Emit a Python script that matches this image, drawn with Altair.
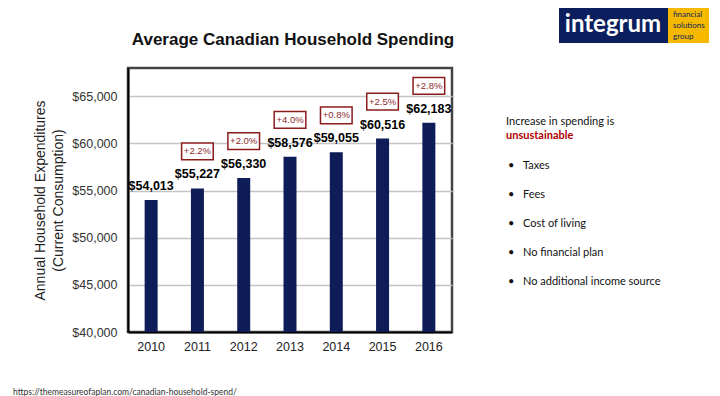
import altair as alt
import pandas as pd

years = ["2010", "2011", "2012", "2013", "2014", "2015", "2016"]
spending = [54013, 55227, 56330, 58576, 59055, 60516, 62183]
pct_change = [None, "+2.2%", "+2.0%", "+4.0%", "+0.8%", "+2.5%", "+2.8%"]

bullets = ["Taxes", "Fees", "Cost of living", "No financial plan", "No additional income source"]

df = pd.DataFrame({"year": years, "spend": spending, "pct": pct_change})
df_pct = df.dropna(subset=["pct"])

FONT = "Liberation Sans"
NAVY = "#0e1d58"

x_enc = alt.X("year:N", title=None,
              axis=alt.Axis(labelAngle=0, labelFontSize=12.5, labelColor="#222", labelFont=FONT,
                            ticks=False, labelPadding=8, domainColor="#000", domainWidth=2, grid=False),
              scale=alt.Scale(paddingInner=0.72, paddingOuter=0.36))
y_scale = alt.Scale(domain=[40000, 68000], nice=False, zero=False)
y_enc = alt.Y("spend:Q", scale=y_scale,
              title=["Annual Household Expenditures", "(Current Consumption)"],
              axis=alt.Axis(values=[40000, 45000, 50000, 55000, 60000, 65000], format="$,.0f",
                            labelFontSize=12.5, labelColor="#333", labelFont=FONT, ticks=False,
                            labelPadding=11, domainColor="#000", domainWidth=2,
                            gridColor="#c4c4c4", gridWidth=1.5,
                            titleFont=FONT, titleFontSize=14, titleFontWeight="normal",
                            titleColor="#222", titlePadding=6, titleLineHeight=18))

base = alt.Chart(df)
bars = base.mark_bar(color=NAVY, size=13).encode(x=x_enc, y=y_enc, y2=alt.datum(40000))
vals = base.mark_text(fontWeight="bold", fontSize=12.5, font=FONT, color="#000",
                      baseline="middle", yOffset=-14).encode(
    x="year:N", y="spend:Q", text=alt.Text("spend:Q", format="$,.0f"))

pct_base = alt.Chart(df_pct)
boxes = pct_base.mark_point(shape="M-1,-0.53H1V0.53H-1Z", size=1000, filled=True,
                            fill="#ffffff", stroke="#8a1c1c", strokeWidth=1.5, opacity=1,
                            yOffset=-37).encode(x="year:N", y="spend:Q")
pct_txt = pct_base.mark_text(fontSize=9.5, font=FONT, color="#8a2a2a", baseline="middle",
                             yOffset=-37).encode(x="year:N", y="spend:Q", text="pct:N")

one = alt.Data(values=[{}])

def txt(s, x, y, **kw):
    return alt.Chart(one).mark_text(text=s, **kw).encode(x=alt.value(x), y=alt.value(y))

def box(x1, x2, y1, y2, color):
    return alt.Chart(one).mark_rect(color=color).encode(
        x=alt.value(x1), x2=alt.value(x2), y=alt.value(y1), y2=alt.value(y2))

title = txt("Average Canadian Household Spending", 165, -28, font=FONT, fontSize=17,
            fontWeight="bold", color="#111", align="center", baseline="middle")

logo = [
    box(431, 540, -60, -25, "#0b1f5e"),
    box(540, 581, -60, -25, "#f6b900"),
    txt("integrum", 485, -43, font="Lato", fontSize=24, fontWeight="bold", color="#ffffff",
        align="center", baseline="middle"),
    txt("financial", 545, -53, font="Lato", fontSize=8, color="#0b1f5e", align="left", baseline="middle"),
    txt("solutions", 545, -42, font="Lato", fontSize=8, color="#0b1f5e", align="left", baseline="middle"),
    txt("group", 545, -31, font="Lato", fontSize=8, color="#0b1f5e", align="left", baseline="middle"),
]

side = [
    txt("Increase in spending is", 378, 54, font="Lato", fontSize=11, color="#111",
        align="left", baseline="middle"),
    txt("unsustainable", 378, 68, font="Lato", fontSize=11, fontWeight="bold", color="#b00000",
        align="left", baseline="middle"),
]
bullet_ys = [98, 127, 156, 185, 214]
for b, yy in zip(bullets, bullet_ys):
    side.append(txt("\u2022", 380, yy, font="Lato", fontSize=11, color="#111",
                    align="left", baseline="middle"))
    side.append(txt(b, 395, yy, font="Lato", fontSize=11, color="#111",
                    align="left", baseline="middle"))

footer = txt("https://themeasureofaplan.com/canadian-household-spend/", -115, 324,
             font="Lato", fontSize=8.5, color="#333", align="left", baseline="middle")

chart = alt.layer(bars, vals, boxes, pct_txt, title, *logo, *side, footer).properties(
    width=324, height=264,
    autosize=alt.AutoSizeParams(type="none"),
    padding={"left": 120, "top": 60, "right": 260, "bottom": 64},
    background="#ffffff",
).configure_view(stroke="#444", strokeWidth=2.5)

chart.save("out.html", embed_options={"renderer": "svg", "actions": False})
